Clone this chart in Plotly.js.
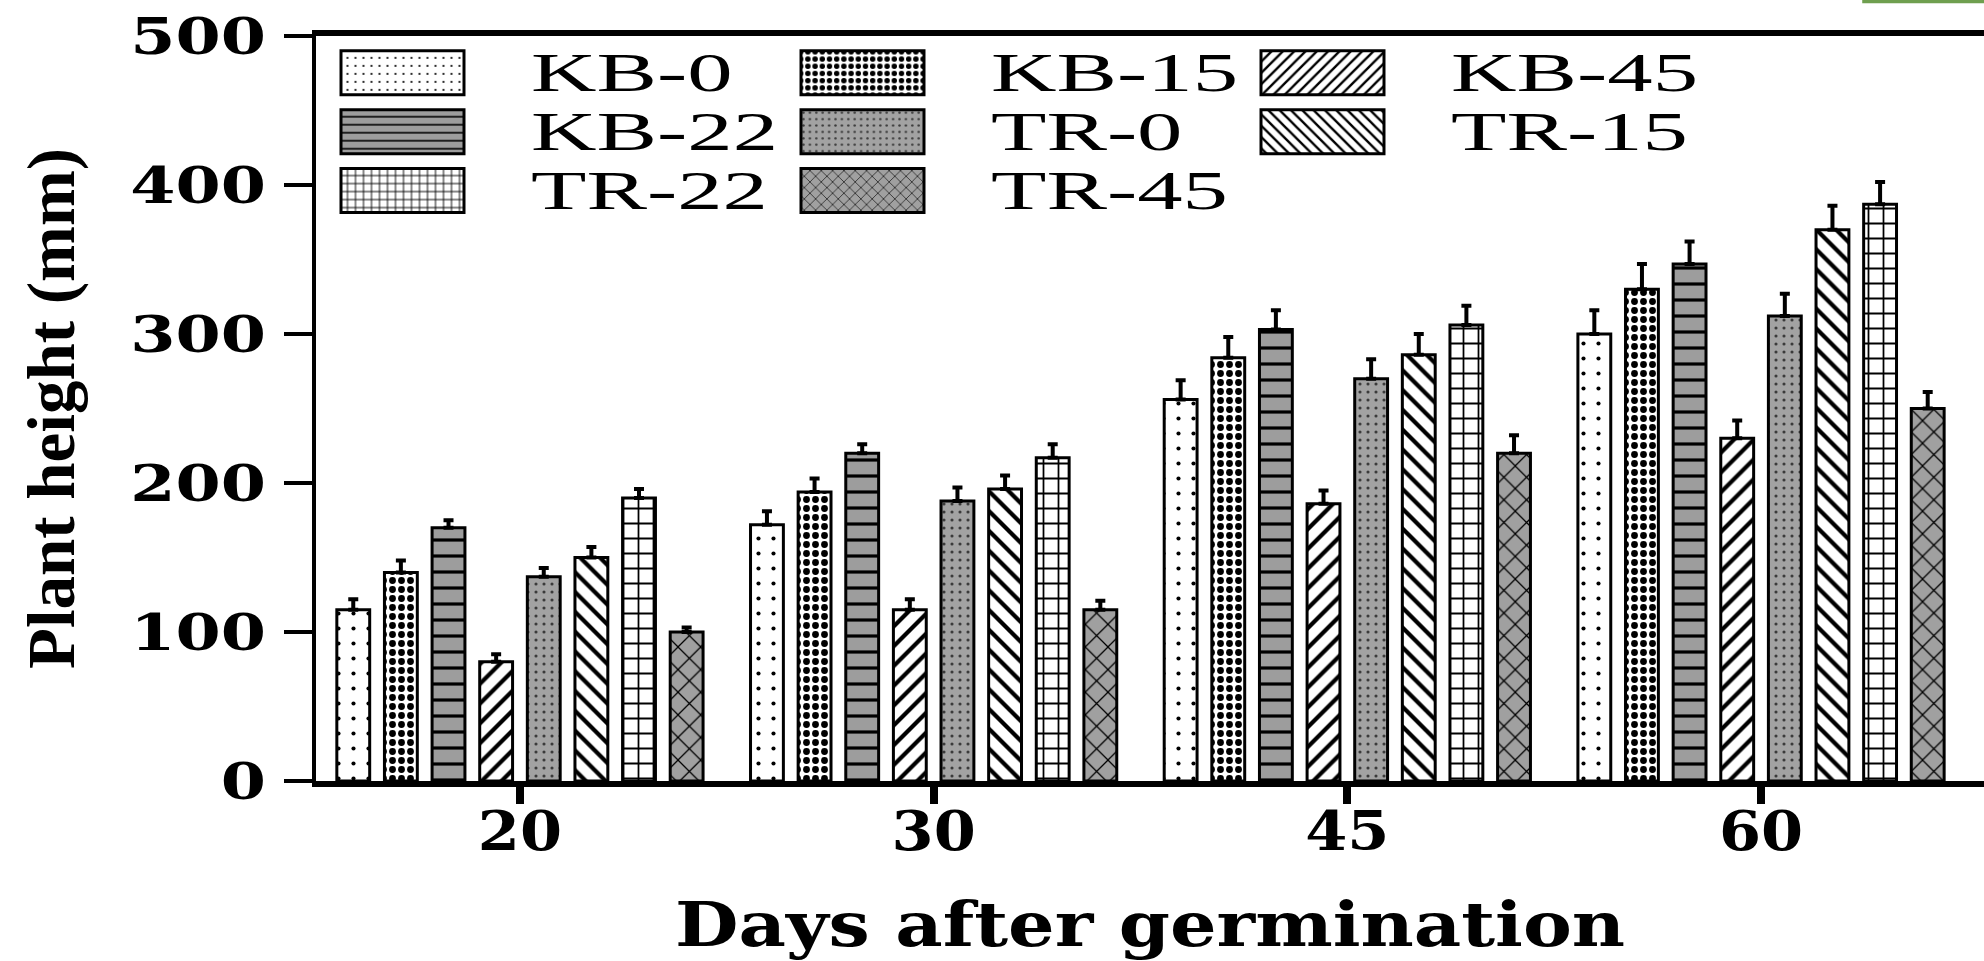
<!DOCTYPE html>
<html>
<head>
<meta charset="utf-8">
<script src="https://cdn.plot.ly/plotly-3.0.1.min.js"></script>
<style>
html,body{margin:0;padding:0;background:#ffffff;}
#chart{width:1984px;height:961px;}
</style>
</head>
<body>
<div id="chart"></div>
<script>
// ---- data ----
var days = ['20', '30', '45', '60'];
var seriesNames = ['KB-0', 'KB-15', 'KB-22', 'KB-45', 'TR-0', 'TR-15', 'TR-22', 'TR-45'];

var kb0  = [115, 172, 256, 300];
var kb15 = [140, 194, 284, 330];
var kb22 = [170, 220, 303, 347];
var kb45 = [80, 115, 186, 230];
var tr0  = [137, 188, 270, 312];
var tr15 = [150, 196, 286, 370];
var tr22 = [190, 217, 306, 387];
var tr45 = [100, 115, 220, 250];

var kb0Err  = [7, 9, 13, 16];
var kb15Err = [8, 9, 14, 17];
var kb22Err = [5, 6, 13, 15];
var kb45Err = [5, 7, 9, 12];
var tr0Err  = [6, 9, 13, 15];
var tr15Err = [7, 9, 14, 16];
var tr22Err = [6, 9, 13, 15];
var tr45Err = [3, 6, 12, 11];

var yTicks = [0, 100, 200, 300, 400, 500];

var values = [kb0, kb15, kb22, kb45, tr0, tr15, tr22, tr45];
var errors = [kb0Err, kb15Err, kb22Err, kb45Err, tr0Err, tr15Err, tr22Err, tr45Err];

// ---- styles ----
var patterns = [
  {shape: '.',  bgcolor: '#ffffff', fgcolor: '#000000', size: 15, solidity: 0.06, fillmode: 'replace'},
  {shape: '.',  bgcolor: '#ffffff', fgcolor: '#000000', size: 9,  solidity: 0.45, fillmode: 'replace'},
  {shape: '-',  bgcolor: '#9d9d9d', fgcolor: '#000000', size: 16, solidity: 0.2,  fillmode: 'replace'},
  {shape: '/',  bgcolor: '#ffffff', fgcolor: '#000000', size: 14, solidity: 0.3,  fillmode: 'replace'},
  {shape: '.',  bgcolor: '#a2a2a2', fgcolor: '#3a3a3a', size: 8,  solidity: 0.12, fillmode: 'replace'},
  {shape: '\\', bgcolor: '#ffffff', fgcolor: '#000000', size: 14, solidity: 0.3,  fillmode: 'replace'},
  {shape: '+',  bgcolor: '#ffffff', fgcolor: '#000000', size: 15, solidity: 0.22, fillmode: 'replace'},
  {shape: 'x',  bgcolor: '#a0a0a0', fgcolor: '#000000', size: 16, solidity: 0.15, fillmode: 'replace'}
];
var legendOf = ['legend', 'legend', 'legend2', 'legend', 'legend2', 'legend2', 'legend3', 'legend3'];

var data = seriesNames.map(function (name, i) {
  return {
    type: 'bar',
    name: name,
    x: days,
    y: values[i],
    legend: legendOf[i],
    marker: {
      color: patterns[i].bgcolor,
      line: {color: '#000000', width: 3},
      pattern: patterns[i]
    },
    error_y: {
      type: 'data',
      symmetric: false,
      array: errors[i],
      arrayminus: errors[i].map(function () { return 0; }),
      color: '#000000',
      thickness: 4,
      width: 5
    },
    hoverinfo: 'x+y+name'
  };
});

var legendFont = {family: '"Liberation Serif", "Times New Roman", serif', size: 54, color: '#000000'};
function legendRow(y) {
  return {
    orientation: 'h',
    x: 0, xanchor: 'left',
    y: y, yanchor: 'middle',
    bgcolor: 'rgba(0,0,0,0)',
    borderwidth: 0,
    font: legendFont,
    itemwidth: 205,
    entrywidth: 240,
    entrywidthmode: 'pixels',
    itemclick: false,
    itemdoubleclick: false
  };
}

var layout = {
  width: 1984,
  height: 961,
  paper_bgcolor: '#ffffff',
  plot_bgcolor: '#ffffff',
  margin: {l: 316, r: 0, t: 36, b: 180, pad: 0},
  barmode: 'group',
  bargap: 0.079,
  bargroupgap: 0.31,
  showlegend: true,
  legend: legendRow(0.954),
  legend2: legendRow(0.875),
  legend3: legendRow(0.796),
  xaxis: {
    type: 'category',
    categoryorder: 'array',
    categoryarray: days,
    range: [-0.493, 3.539],
    showline: true,
    linecolor: '#000000',
    linewidth: 6,
    mirror: true,
    ticks: 'outside',
    ticklen: 17,
    tickwidth: 8,
    tickcolor: '#000000',
    ticklabelstandoff: -20,
    showgrid: false,
    zeroline: false,
    tickfont: {family: '"DejaVu Serif", serif', size: 55, color: '#000000', weight: 'bold'},
    title: {
      text: 'Days after germination',
      font: {family: '"DejaVu Serif", serif', size: 62, color: '#000000', weight: 'bold'},
      standoff: 72
    }
  },
  yaxis: {
    range: [0, 500],
    tickvals: yTicks,
    showline: true,
    linecolor: '#000000',
    linewidth: 4,
    ticks: 'outside',
    ticklen: 28,
    tickwidth: 4,
    tickcolor: '#000000',
    ticklabelstandoff: 8,
    showgrid: false,
    zeroline: false,
    tickfont: {family: '"DejaVu Serif", serif', size: 50, color: '#000000', weight: 'bold'},
    title: {
      text: 'Plant height (mm)',
      font: {family: '"Liberation Serif", "Times New Roman", serif', size: 67, color: '#000000', weight: 'bold'},
      standoff: 66
    }
  },
  shapes: [
    {type: 'rect', xref: 'paper', yref: 'paper', x0: 0.927, x1: 1.0, y0: 1.044, y1: 1.05,
     fillcolor: '#6f9f4f', line: {width: 0}}
  ]
};

var gd = document.getElementById('chart');

function stretchText(el, factor, target) {
  if (!el) return;
  el.removeAttribute('textLength');
  el.removeAttribute('lengthAdjust');
  var len = el.getComputedTextLength();
  if (len > 0) {
    var w = target ? target : len * factor;
    el.setAttribute('textLength', w.toFixed(1));
    el.setAttribute('lengthAdjust', 'spacingAndGlyphs');
  }
}

function tweak() {
  gd.querySelectorAll('.legendpoints path').forEach(function (p) {
    var dx = -21, hw = 61.5, hh = 22, dy = 3;
    p.setAttribute('d', 'M' + (dx + hw) + ',' + (dy + hh) + 'H' + (dx - hw) + 'V' + (dy - hh) + 'H' + (dx + hw) + 'Z');
    p.style.strokeWidth = '3px';
    p.style.stroke = '#000000';
  });
  gd.querySelectorAll('g.traces > text').forEach(function (t) { stretchText(t, 1.68); });
  gd.querySelectorAll('g.ytick > text').forEach(function (t) { stretchText(t, 1.3); });
  gd.querySelectorAll('g.xtick > text').forEach(function (t) { stretchText(t, 1.1); });
  stretchText(gd.querySelector('text.xtitle'), 1, 950);
}

Plotly.newPlot(gd, data, layout, {displayModeBar: false, responsive: false}).then(function () {
  tweak();
  gd.on('plotly_afterplot', function () { setTimeout(tweak, 0); });
  setTimeout(tweak, 100);
  setTimeout(tweak, 500);
});
</script>
</body>
</html>
